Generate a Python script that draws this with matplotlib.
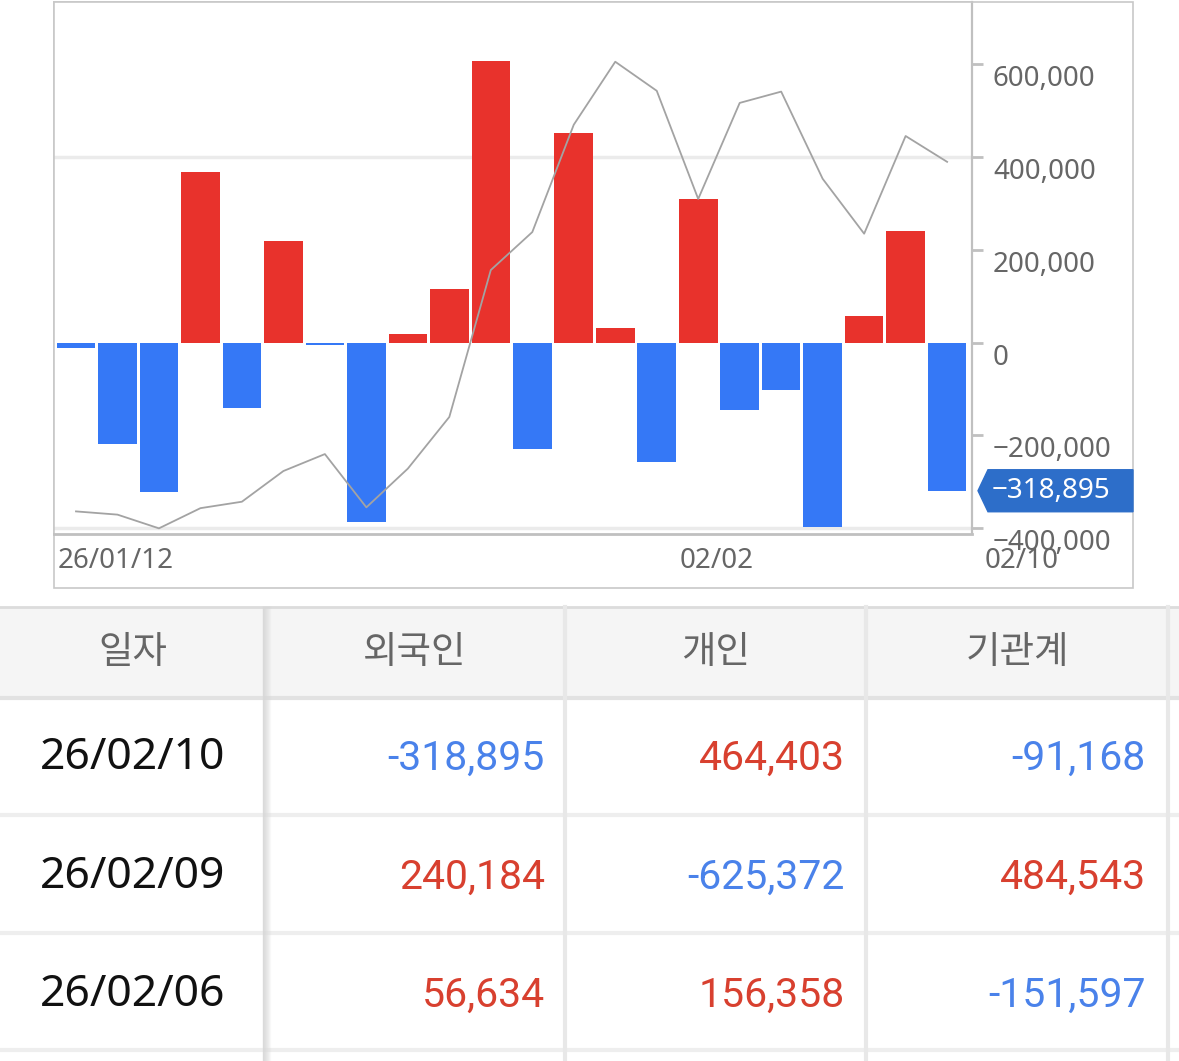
import numpy as np
import matplotlib
matplotlib.use('Agg')
import matplotlib.pyplot as plt
from matplotlib.patches import Rectangle, Polygon
from matplotlib.transforms import ScaledTranslation

plt.rcParams['font.family'] = ['Noto Sans', 'Noto Sans CJK KR', 'DejaVu Sans']

# daily net buying of foreigners, 26/01/12 .. 26/02/10
dates = ['01/12', '01/13', '01/14', '01/15', '01/16', '01/19', '01/20', '01/21',
         '01/22', '01/23', '01/26', '01/27', '01/28', '01/29', '01/30', '02/02',
         '02/03', '02/04', '02/05', '02/06', '02/09', '02/10']
foreign = [-12000, -219000, -322000, 368000, -141000, 219000, -6000, -386000,
           19000, 116000, 606000, -230000, 452000, 32000, -256000, 310000,
           -146000, -101000, -398000, 56634, 240184, -318895]
index_level = [4626, 4622, 4605, 4630, 4638, 4676, 4697, 4631, 4679, 4743, 4925,
               4972, 5105, 5183, 5147, 5013, 5132, 5146, 5038, 4970, 5091, 5059]
y_ticks = [-400000, -200000, 0, 200000, 400000, 600000]
x_label_idx = [0, 15]

# table below the chart
tbl_header = ['일자', '외국인', '개인', '기관계']
tbl_dates = ['26/02/10', '26/02/09', '26/02/06']
tbl_foreign = [-318895, 240184, 56634]
tbl_individual = [464403, -625372, 156358]
tbl_institution = [-91168, 484543, -151597]

RED = '#e8322c'
BLUE = '#3578f6'
W, H = 1179, 1061

fig = plt.figure(figsize=(W / 100, H / 100), dpi=100)
ov = fig.add_axes([0, 0, 1, 1])
ov.set_xlim(0, W)
ov.set_ylim(H, 0)
ov.axis('off')

ax = fig.add_axes([54 / W, 1 - 534 / H, 918 / W, 532 / H])
x = np.arange(len(foreign))
colors = [RED if v > 0 else BLUE for v in foreign]
ax.bar(x, foreign, width=0.93, color=colors, zorder=2)
ax.set_xlim(-0.53, 21.6)
ax.set_ylim(-412000, 733000)
for g in (400000, -400000):
    ax.axhline(g, color='#ebebeb', lw=2.5, zorder=1)

# index line on its own hidden scale
ax2 = ax.twinx()
ax2.plot(x, index_level, color='#a3a3a3', lw=1.3, zorder=3)
ax2.set_ylim(4598, 5257)
ax2.axis('off')

ax.set_yticks(y_ticks)
ax.tick_params(axis='y', left=False, right=True, length=8, width=2, color='#c0c0c0',
               labelright=False, labelleft=False)
ax.set_xticks([])
for s in ('left', 'top'):
    ax.spines[s].set_color('#c8c8c8')
    ax.spines[s].set_linewidth(1.2)
ax.spines['right'].set_color('#c0c0c0')
ax.spines['right'].set_linewidth(1.6)
ax.spines['bottom'].set_color('#c0c0c0')
ax.spines['bottom'].set_linewidth(2)

lab_off = ScaledTranslation(21 / 100, -15 / 100, fig.dpi_scale_trans)
for v in y_ticks:
    txt = f'{abs(v):,}'
    if v < 0:
        txt = '\u2212' + txt
    ax.text(1.0, v, txt, transform=ax.get_yaxis_transform() + lab_off,
            ha='left', va='center', fontsize=20, color='#666666', clip_on=False)

xl_off = ScaledTranslation(0, -27 / 100, fig.dpi_scale_trans)
for i in x_label_idx:
    lab = '26/' + dates[i] if i == 0 else dates[i]
    ax.text(i - 0.45, 0, lab, transform=ax.get_xaxis_transform() + xl_off,
            ha='left', va='center', fontsize=20, color='#666666', clip_on=False)
ax.text(1.0, 0, dates[-1], transform=ax.transAxes + ScaledTranslation(13 / 100, -27 / 100, fig.dpi_scale_trans),
        ha='left', va='center', fontsize=20, color='#666666', clip_on=False)

# outer frame of the chart
ov.add_patch(Rectangle((54, 2), 1079, 586, fill=False, edgecolor='#c8c8c8', lw=1.2))

# legend
ov.add_patch(Rectangle((75, 25), 17, 17, color=RED))
ov.text(100, 33, '외국인', color='#e03a33', fontsize=19, va='center', ha='left',
        family=['Noto Sans CJK KR', 'DejaVu Sans'])
ov.add_patch(Rectangle((192, 25), 17, 17, color='#a3a3a3'))
ov.text(216, 33, '지수', color='#a3a3a3', fontsize=19, va='center', ha='left',
        family=['Noto Sans CJK KR', 'DejaVu Sans'])

# callout for last value
fig.canvas.draw()
last = foreign[-1]
yp = H - ax.transData.transform((0, last))[1]
ov.add_patch(Polygon([(978, yp), (988, yp - 21), (1133, yp - 21), (1133, yp + 21), (988, yp + 21)],
                     closed=True, color='#2d6ec9', zorder=5))
ov.text(992, yp, '\u2212' + f'{abs(last):,}', color='white', fontsize=20, va='center', ha='left', zorder=6)

# table
ov.add_patch(Rectangle((0, 607), W, 90, color='#f5f5f5', zorder=1))
ov.plot([0, W], [607, 607], color='#dcdcdc', lw=2, zorder=2)
ov.plot([0, W], [698, 698], color='#e2e2e2', lw=3, zorder=2)
for yy in (815, 933, 1050):
    ov.plot([0, W], [yy, yy], color='#eeeeee', lw=3, zorder=2)
for k in range(8):
    ov.plot([263 + k, 263 + k], [607, H], color='#d8d8d8', alpha=0.9 - k * 0.11, lw=1, zorder=2)
for xx in (565, 866, 1168):
    ov.plot([xx, xx], [607, H], color='#e8e8e8', lw=3, zorder=2)

col_centers = [133, 415, 716, 1017]
for cx, h in zip(col_centers, tbl_header):
    ov.text(cx, 652, h, ha='center', va='center', fontsize=27, color='#666666',
            family=['Noto Sans CJK KR', 'DejaVu Sans'])

row_y = [758, 877, 995]
num_cols = [(545, tbl_foreign), (845, tbl_individual), (1146, tbl_institution)]
for r, ry in enumerate(row_y):
    ov.text(133, ry, tbl_dates[r], ha='center', va='center', fontsize=32, color='#111111')
    for rx, vals in num_cols:
        v = vals[r]
        ov.text(rx, ry, f'{v:,}', ha='right', va='center', fontsize=29.5,
                color='#d8402f' if v > 0 else '#4a82ea', family='Roboto')

fig.savefig('out.png', dpi=100)
